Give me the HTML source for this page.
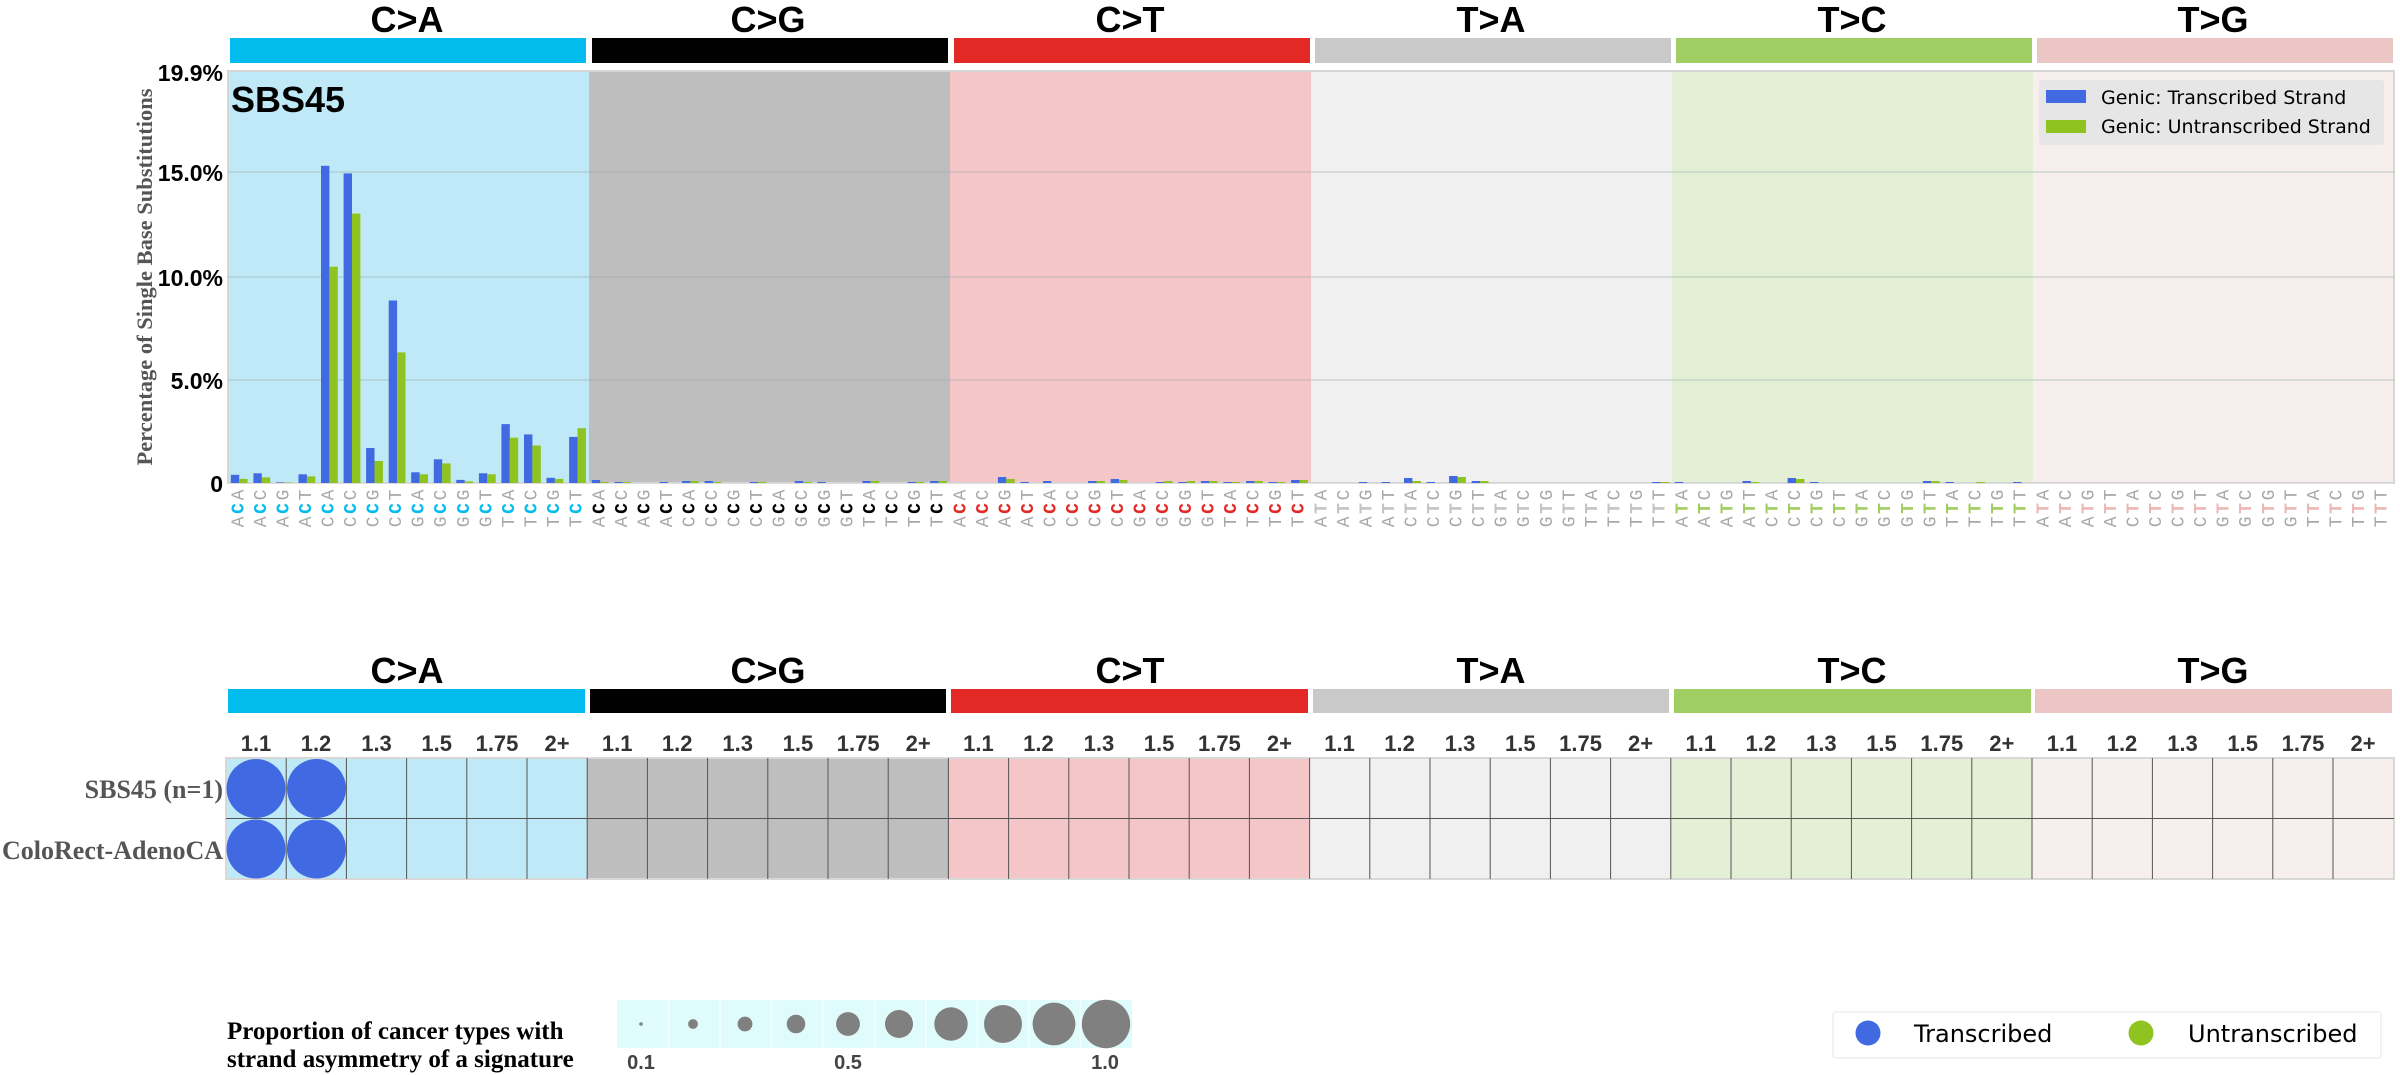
<!DOCTYPE html>
<html><head><meta charset="utf-8"><style>
html,body{margin:0;padding:0;background:#fff;width:2400px;height:1075px;overflow:hidden}
svg{display:block}
.tl text{font-family:"Liberation Mono",monospace;font-size:18px;letter-spacing:2.6px;fill:#a8a8a8}
.cat{font-family:"Liberation Sans",sans-serif;font-weight:bold;font-size:36px;fill:#000}
.yt{font-family:"Liberation Sans",sans-serif;font-weight:bold;font-size:23px;fill:#000}
.num{font-family:"Liberation Sans",sans-serif;font-weight:bold;font-size:22px;fill:#333}
.serif{font-family:"Liberation Serif",serif;font-weight:bold}
.dv{font-family:"DejaVu Sans","Liberation Sans",sans-serif}
</style></head><body>
<svg width="2400" height="1075" viewBox="0 0 2400 1075" xmlns="http://www.w3.org/2000/svg">
<g class="cat" text-anchor="middle">
<text x="407" y="32">C&gt;A</text><text x="768" y="32">C&gt;G</text><text x="1130" y="32">C&gt;T</text>
<text x="1491" y="32">T&gt;A</text><text x="1852" y="32">T&gt;C</text><text x="2213" y="32">T&gt;G</text>
</g>
<rect x="230" y="38" width="356" height="25" fill="#03bcee"/>
<rect x="592" y="38" width="356" height="25" fill="#010101"/>
<rect x="954" y="38" width="356" height="25" fill="#e32926"/>
<rect x="1315" y="38" width="356" height="25" fill="#cac9c9"/>
<rect x="1676" y="38" width="356" height="25" fill="#a1ce63"/>
<rect x="2037" y="38" width="356" height="25" fill="#ebc6c4"/>
<rect x="228" y="71" width="361" height="412" fill="#bfe9f6"/>
<rect x="589" y="71" width="361" height="412" fill="#bebebe"/>
<rect x="950" y="71" width="361" height="412" fill="#f5c6c8"/>
<rect x="1311" y="71" width="361" height="412" fill="#f0f0f0"/>
<rect x="1672" y="71" width="361" height="412" fill="#e3f0d5"/>
<rect x="2033" y="71" width="361" height="412" fill="#f7efee"/>
<rect x="228" y="71" width="2166" height="412" fill="none" stroke="#d6d6d6" stroke-width="2"/>
<g stroke="#9aa" stroke-width="1" opacity="0.6">
<line x1="228" y1="380" x2="2394" y2="380"/><line x1="228" y1="277" x2="2394" y2="277"/><line x1="228" y1="172" x2="2394" y2="172"/>
</g>
<line x1="228" y1="483.5" x2="2394" y2="483.5" stroke="#ddd" stroke-width="1"/>
<g class="yt" text-anchor="end">
<text x="223" y="81">19.9%</text><text x="223" y="181">15.0%</text><text x="223" y="286">10.0%</text><text x="223" y="389">5.0%</text><text x="223" y="492">0</text>
</g>
<text class="serif" transform="translate(152,277) rotate(-90)" text-anchor="middle" font-size="22.5" fill="#555">Percentage of Single Base Substitutions</text>
<text x="231" y="112" font-family="Liberation Sans,sans-serif" font-weight="bold" font-size="36">SBS45</text>
<rect x="2039" y="80" width="345" height="65" fill="#e6e6e6" rx="3"/>
<rect x="2046" y="90" width="40" height="13" fill="#4169e1"/>
<rect x="2046" y="120" width="40" height="13" fill="#8fc31f"/>
<text class="dv" x="2101" y="104" font-size="19">Genic: Transcribed Strand</text>
<text class="dv" x="2101" y="133" font-size="19">Genic: Untranscribed Strand</text>
<g transform="translate(228,0)">
<g fill="#4169e1">
<rect x="2.8" y="474.8" width="8.4" height="8.2"/><rect x="25.4" y="473.3" width="8.4" height="9.7"/><rect x="47.9" y="482.4" width="8.4" height="0.6"/><rect x="70.5" y="474.3" width="8.4" height="8.7"/>
<rect x="93" y="165.8" width="8.4" height="317.2"/><rect x="115.6" y="173.4" width="8.4" height="309.6"/><rect x="138.1" y="448" width="8.4" height="35"/><rect x="160.7" y="300.5" width="8.4" height="182.5"/>
<rect x="183.2" y="472.3" width="8.4" height="10.7"/><rect x="205.8" y="459.3" width="8.4" height="23.7"/><rect x="228.3" y="479.9" width="8.4" height="3.1"/><rect x="250.9" y="473.3" width="8.4" height="9.7"/>
<rect x="273.4" y="424.1" width="8.4" height="58.9"/><rect x="296" y="434.4" width="8.4" height="48.6"/><rect x="318.5" y="477.8" width="8.4" height="5.2"/><rect x="341.1" y="436.9" width="8.4" height="46.1"/>
</g>
<g fill="#8fc31f">
<rect x="11.2" y="478.9" width="8.4" height="4.1"/><rect x="33.8" y="477.4" width="8.4" height="5.6"/><rect x="56.3" y="482.6" width="8.4" height="0.4"/><rect x="78.9" y="476.4" width="8.4" height="6.6"/>
<rect x="101.4" y="266.7" width="8.4" height="216.3"/><rect x="124" y="213.6" width="8.4" height="269.4"/><rect x="146.5" y="461" width="8.4" height="22"/><rect x="169.1" y="352.4" width="8.4" height="130.6"/>
<rect x="191.6" y="474.3" width="8.4" height="8.7"/><rect x="214.2" y="463.4" width="8.4" height="19.6"/><rect x="236.7" y="481.4" width="8.4" height="1.6"/><rect x="259.3" y="474.3" width="8.4" height="8.7"/>
<rect x="281.8" y="437.7" width="8.4" height="45.3"/><rect x="304.4" y="445.5" width="8.4" height="37.5"/><rect x="326.9" y="478.9" width="8.4" height="4.1"/><rect x="349.5" y="428.2" width="8.4" height="54.8"/>
</g>
</g>
<g transform="translate(589,0)">
<g fill="#4169e1"><rect x="2.8" y="480" width="8.4" height="3"/><rect x="25.4" y="482" width="8.4" height="1"/><rect x="70.5" y="482" width="8.4" height="1"/><rect x="93" y="481" width="8.4" height="2"/><rect x="115.6" y="481" width="8.4" height="2"/><rect x="160.7" y="482" width="8.4" height="1"/><rect x="205.8" y="481" width="8.4" height="2"/><rect x="228.3" y="482" width="8.4" height="1"/><rect x="273.4" y="481" width="8.4" height="2"/><rect x="318.5" y="482" width="8.4" height="1"/><rect x="341.1" y="481" width="8.4" height="2"/></g>
<g fill="#8fc31f"><rect x="11.2" y="482" width="8.4" height="1"/><rect x="33.8" y="482" width="8.4" height="1"/><rect x="101.4" y="481" width="8.4" height="2"/><rect x="124" y="482" width="8.4" height="1"/><rect x="169.1" y="482" width="8.4" height="1"/><rect x="214.2" y="482" width="8.4" height="1"/><rect x="281.8" y="481" width="8.4" height="2"/><rect x="326.9" y="482" width="8.4" height="1"/><rect x="349.5" y="481" width="8.4" height="2"/></g>
</g>
<g transform="translate(950,0)">
<g fill="#4169e1"><rect x="47.9" y="477" width="8.4" height="6"/><rect x="70.5" y="482" width="8.4" height="1"/><rect x="93" y="481" width="8.4" height="2"/><rect x="138.1" y="481" width="8.4" height="2"/><rect x="160.7" y="479" width="8.4" height="4"/><rect x="205.8" y="482" width="8.4" height="1"/><rect x="228.3" y="482" width="8.4" height="1"/><rect x="250.9" y="481" width="8.4" height="2"/><rect x="273.4" y="482" width="8.4" height="1"/><rect x="296" y="481" width="8.4" height="2"/><rect x="318.5" y="482" width="8.4" height="1"/><rect x="341.1" y="480" width="8.4" height="3"/></g>
<g fill="#8fc31f"><rect x="56.3" y="479" width="8.4" height="4"/><rect x="146.5" y="481" width="8.4" height="2"/><rect x="169.1" y="480" width="8.4" height="3"/><rect x="214.2" y="481" width="8.4" height="2"/><rect x="236.7" y="481" width="8.4" height="2"/><rect x="259.3" y="481" width="8.4" height="2"/><rect x="281.8" y="482" width="8.4" height="1"/><rect x="304.4" y="481" width="8.4" height="2"/><rect x="326.9" y="482" width="8.4" height="1"/><rect x="349.5" y="480" width="8.4" height="3"/></g>
</g>
<g transform="translate(1311,0)">
<g fill="#4169e1"><rect x="47.9" y="482" width="8.4" height="1"/><rect x="70.5" y="482" width="8.4" height="1"/><rect x="93" y="478" width="8.4" height="5"/><rect x="115.6" y="482" width="8.4" height="1"/><rect x="138.1" y="476" width="8.4" height="7"/><rect x="160.7" y="481" width="8.4" height="2"/><rect x="341.1" y="482" width="8.4" height="1"/></g>
<g fill="#8fc31f"><rect x="101.4" y="481" width="8.4" height="2"/><rect x="146.5" y="477" width="8.4" height="6"/><rect x="169.1" y="481" width="8.4" height="2"/><rect x="349.5" y="482" width="8.4" height="1"/></g>
</g>
<g transform="translate(1672,0)">
<g fill="#4169e1"><rect x="2.8" y="482" width="8.4" height="1"/><rect x="70.5" y="481" width="8.4" height="2"/><rect x="115.6" y="478" width="8.4" height="5"/><rect x="138.1" y="482" width="8.4" height="1"/><rect x="250.9" y="481" width="8.4" height="2"/><rect x="273.4" y="482" width="8.4" height="1"/><rect x="341.1" y="482" width="8.4" height="1"/></g>
<g fill="#8fc31f"><rect x="78.9" y="482" width="8.4" height="1"/><rect x="124" y="479" width="8.4" height="4"/><rect x="259.3" y="481" width="8.4" height="2"/><rect x="304.4" y="482" width="8.4" height="1"/></g>
</g>
<g class="tl">
<g transform="translate(228,0)">
<text transform="translate(11.3,487) rotate(-90)" text-anchor="end" dominant-baseline="central">A<tspan fill="#03bcee" font-weight="bold">C</tspan>A</text>
<text transform="translate(33.9,487) rotate(-90)" text-anchor="end" dominant-baseline="central">A<tspan fill="#03bcee" font-weight="bold">C</tspan>C</text>
<text transform="translate(56.4,487) rotate(-90)" text-anchor="end" dominant-baseline="central">A<tspan fill="#03bcee" font-weight="bold">C</tspan>G</text>
<text transform="translate(79,487) rotate(-90)" text-anchor="end" dominant-baseline="central">A<tspan fill="#03bcee" font-weight="bold">C</tspan>T</text>
<text transform="translate(101.5,487) rotate(-90)" text-anchor="end" dominant-baseline="central">C<tspan fill="#03bcee" font-weight="bold">C</tspan>A</text>
<text transform="translate(124,487) rotate(-90)" text-anchor="end" dominant-baseline="central">C<tspan fill="#03bcee" font-weight="bold">C</tspan>C</text>
<text transform="translate(146.6,487) rotate(-90)" text-anchor="end" dominant-baseline="central">C<tspan fill="#03bcee" font-weight="bold">C</tspan>G</text>
<text transform="translate(169.1,487) rotate(-90)" text-anchor="end" dominant-baseline="central">C<tspan fill="#03bcee" font-weight="bold">C</tspan>T</text>
<text transform="translate(191.7,487) rotate(-90)" text-anchor="end" dominant-baseline="central">G<tspan fill="#03bcee" font-weight="bold">C</tspan>A</text>
<text transform="translate(214.2,487) rotate(-90)" text-anchor="end" dominant-baseline="central">G<tspan fill="#03bcee" font-weight="bold">C</tspan>C</text>
<text transform="translate(236.8,487) rotate(-90)" text-anchor="end" dominant-baseline="central">G<tspan fill="#03bcee" font-weight="bold">C</tspan>G</text>
<text transform="translate(259.3,487) rotate(-90)" text-anchor="end" dominant-baseline="central">G<tspan fill="#03bcee" font-weight="bold">C</tspan>T</text>
<text transform="translate(281.9,487) rotate(-90)" text-anchor="end" dominant-baseline="central">T<tspan fill="#03bcee" font-weight="bold">C</tspan>A</text>
<text transform="translate(304.4,487) rotate(-90)" text-anchor="end" dominant-baseline="central">T<tspan fill="#03bcee" font-weight="bold">C</tspan>C</text>
<text transform="translate(327,487) rotate(-90)" text-anchor="end" dominant-baseline="central">T<tspan fill="#03bcee" font-weight="bold">C</tspan>G</text>
<text transform="translate(349.5,487) rotate(-90)" text-anchor="end" dominant-baseline="central">T<tspan fill="#03bcee" font-weight="bold">C</tspan>T</text>
</g>
<g transform="translate(589,0)">
<text transform="translate(11.3,487) rotate(-90)" text-anchor="end" dominant-baseline="central">A<tspan fill="#000" font-weight="bold">C</tspan>A</text>
<text transform="translate(33.9,487) rotate(-90)" text-anchor="end" dominant-baseline="central">A<tspan fill="#000" font-weight="bold">C</tspan>C</text>
<text transform="translate(56.4,487) rotate(-90)" text-anchor="end" dominant-baseline="central">A<tspan fill="#000" font-weight="bold">C</tspan>G</text>
<text transform="translate(79,487) rotate(-90)" text-anchor="end" dominant-baseline="central">A<tspan fill="#000" font-weight="bold">C</tspan>T</text>
<text transform="translate(101.5,487) rotate(-90)" text-anchor="end" dominant-baseline="central">C<tspan fill="#000" font-weight="bold">C</tspan>A</text>
<text transform="translate(124,487) rotate(-90)" text-anchor="end" dominant-baseline="central">C<tspan fill="#000" font-weight="bold">C</tspan>C</text>
<text transform="translate(146.6,487) rotate(-90)" text-anchor="end" dominant-baseline="central">C<tspan fill="#000" font-weight="bold">C</tspan>G</text>
<text transform="translate(169.1,487) rotate(-90)" text-anchor="end" dominant-baseline="central">C<tspan fill="#000" font-weight="bold">C</tspan>T</text>
<text transform="translate(191.7,487) rotate(-90)" text-anchor="end" dominant-baseline="central">G<tspan fill="#000" font-weight="bold">C</tspan>A</text>
<text transform="translate(214.2,487) rotate(-90)" text-anchor="end" dominant-baseline="central">G<tspan fill="#000" font-weight="bold">C</tspan>C</text>
<text transform="translate(236.8,487) rotate(-90)" text-anchor="end" dominant-baseline="central">G<tspan fill="#000" font-weight="bold">C</tspan>G</text>
<text transform="translate(259.3,487) rotate(-90)" text-anchor="end" dominant-baseline="central">G<tspan fill="#000" font-weight="bold">C</tspan>T</text>
<text transform="translate(281.9,487) rotate(-90)" text-anchor="end" dominant-baseline="central">T<tspan fill="#000" font-weight="bold">C</tspan>A</text>
<text transform="translate(304.4,487) rotate(-90)" text-anchor="end" dominant-baseline="central">T<tspan fill="#000" font-weight="bold">C</tspan>C</text>
<text transform="translate(327,487) rotate(-90)" text-anchor="end" dominant-baseline="central">T<tspan fill="#000" font-weight="bold">C</tspan>G</text>
<text transform="translate(349.5,487) rotate(-90)" text-anchor="end" dominant-baseline="central">T<tspan fill="#000" font-weight="bold">C</tspan>T</text>
</g>
<g transform="translate(950,0)">
<text transform="translate(11.3,487) rotate(-90)" text-anchor="end" dominant-baseline="central">A<tspan fill="#e32926" font-weight="bold">C</tspan>A</text>
<text transform="translate(33.9,487) rotate(-90)" text-anchor="end" dominant-baseline="central">A<tspan fill="#e32926" font-weight="bold">C</tspan>C</text>
<text transform="translate(56.4,487) rotate(-90)" text-anchor="end" dominant-baseline="central">A<tspan fill="#e32926" font-weight="bold">C</tspan>G</text>
<text transform="translate(79,487) rotate(-90)" text-anchor="end" dominant-baseline="central">A<tspan fill="#e32926" font-weight="bold">C</tspan>T</text>
<text transform="translate(101.5,487) rotate(-90)" text-anchor="end" dominant-baseline="central">C<tspan fill="#e32926" font-weight="bold">C</tspan>A</text>
<text transform="translate(124,487) rotate(-90)" text-anchor="end" dominant-baseline="central">C<tspan fill="#e32926" font-weight="bold">C</tspan>C</text>
<text transform="translate(146.6,487) rotate(-90)" text-anchor="end" dominant-baseline="central">C<tspan fill="#e32926" font-weight="bold">C</tspan>G</text>
<text transform="translate(169.1,487) rotate(-90)" text-anchor="end" dominant-baseline="central">C<tspan fill="#e32926" font-weight="bold">C</tspan>T</text>
<text transform="translate(191.7,487) rotate(-90)" text-anchor="end" dominant-baseline="central">G<tspan fill="#e32926" font-weight="bold">C</tspan>A</text>
<text transform="translate(214.2,487) rotate(-90)" text-anchor="end" dominant-baseline="central">G<tspan fill="#e32926" font-weight="bold">C</tspan>C</text>
<text transform="translate(236.8,487) rotate(-90)" text-anchor="end" dominant-baseline="central">G<tspan fill="#e32926" font-weight="bold">C</tspan>G</text>
<text transform="translate(259.3,487) rotate(-90)" text-anchor="end" dominant-baseline="central">G<tspan fill="#e32926" font-weight="bold">C</tspan>T</text>
<text transform="translate(281.9,487) rotate(-90)" text-anchor="end" dominant-baseline="central">T<tspan fill="#e32926" font-weight="bold">C</tspan>A</text>
<text transform="translate(304.4,487) rotate(-90)" text-anchor="end" dominant-baseline="central">T<tspan fill="#e32926" font-weight="bold">C</tspan>C</text>
<text transform="translate(327,487) rotate(-90)" text-anchor="end" dominant-baseline="central">T<tspan fill="#e32926" font-weight="bold">C</tspan>G</text>
<text transform="translate(349.5,487) rotate(-90)" text-anchor="end" dominant-baseline="central">T<tspan fill="#e32926" font-weight="bold">C</tspan>T</text>
</g>
<g transform="translate(1311,0)">
<text transform="translate(11.3,487) rotate(-90)" text-anchor="end" dominant-baseline="central">A<tspan fill="#c4c4c4" font-weight="bold">T</tspan>A</text>
<text transform="translate(33.9,487) rotate(-90)" text-anchor="end" dominant-baseline="central">A<tspan fill="#c4c4c4" font-weight="bold">T</tspan>C</text>
<text transform="translate(56.4,487) rotate(-90)" text-anchor="end" dominant-baseline="central">A<tspan fill="#c4c4c4" font-weight="bold">T</tspan>G</text>
<text transform="translate(79,487) rotate(-90)" text-anchor="end" dominant-baseline="central">A<tspan fill="#c4c4c4" font-weight="bold">T</tspan>T</text>
<text transform="translate(101.5,487) rotate(-90)" text-anchor="end" dominant-baseline="central">C<tspan fill="#c4c4c4" font-weight="bold">T</tspan>A</text>
<text transform="translate(124,487) rotate(-90)" text-anchor="end" dominant-baseline="central">C<tspan fill="#c4c4c4" font-weight="bold">T</tspan>C</text>
<text transform="translate(146.6,487) rotate(-90)" text-anchor="end" dominant-baseline="central">C<tspan fill="#c4c4c4" font-weight="bold">T</tspan>G</text>
<text transform="translate(169.1,487) rotate(-90)" text-anchor="end" dominant-baseline="central">C<tspan fill="#c4c4c4" font-weight="bold">T</tspan>T</text>
<text transform="translate(191.7,487) rotate(-90)" text-anchor="end" dominant-baseline="central">G<tspan fill="#c4c4c4" font-weight="bold">T</tspan>A</text>
<text transform="translate(214.2,487) rotate(-90)" text-anchor="end" dominant-baseline="central">G<tspan fill="#c4c4c4" font-weight="bold">T</tspan>C</text>
<text transform="translate(236.8,487) rotate(-90)" text-anchor="end" dominant-baseline="central">G<tspan fill="#c4c4c4" font-weight="bold">T</tspan>G</text>
<text transform="translate(259.3,487) rotate(-90)" text-anchor="end" dominant-baseline="central">G<tspan fill="#c4c4c4" font-weight="bold">T</tspan>T</text>
<text transform="translate(281.9,487) rotate(-90)" text-anchor="end" dominant-baseline="central">T<tspan fill="#c4c4c4" font-weight="bold">T</tspan>A</text>
<text transform="translate(304.4,487) rotate(-90)" text-anchor="end" dominant-baseline="central">T<tspan fill="#c4c4c4" font-weight="bold">T</tspan>C</text>
<text transform="translate(327,487) rotate(-90)" text-anchor="end" dominant-baseline="central">T<tspan fill="#c4c4c4" font-weight="bold">T</tspan>G</text>
<text transform="translate(349.5,487) rotate(-90)" text-anchor="end" dominant-baseline="central">T<tspan fill="#c4c4c4" font-weight="bold">T</tspan>T</text>
</g>
<g transform="translate(1672,0)">
<text transform="translate(11.3,487) rotate(-90)" text-anchor="end" dominant-baseline="central">A<tspan fill="#a1ce63" font-weight="bold">T</tspan>A</text>
<text transform="translate(33.9,487) rotate(-90)" text-anchor="end" dominant-baseline="central">A<tspan fill="#a1ce63" font-weight="bold">T</tspan>C</text>
<text transform="translate(56.4,487) rotate(-90)" text-anchor="end" dominant-baseline="central">A<tspan fill="#a1ce63" font-weight="bold">T</tspan>G</text>
<text transform="translate(79,487) rotate(-90)" text-anchor="end" dominant-baseline="central">A<tspan fill="#a1ce63" font-weight="bold">T</tspan>T</text>
<text transform="translate(101.5,487) rotate(-90)" text-anchor="end" dominant-baseline="central">C<tspan fill="#a1ce63" font-weight="bold">T</tspan>A</text>
<text transform="translate(124,487) rotate(-90)" text-anchor="end" dominant-baseline="central">C<tspan fill="#a1ce63" font-weight="bold">T</tspan>C</text>
<text transform="translate(146.6,487) rotate(-90)" text-anchor="end" dominant-baseline="central">C<tspan fill="#a1ce63" font-weight="bold">T</tspan>G</text>
<text transform="translate(169.1,487) rotate(-90)" text-anchor="end" dominant-baseline="central">C<tspan fill="#a1ce63" font-weight="bold">T</tspan>T</text>
<text transform="translate(191.7,487) rotate(-90)" text-anchor="end" dominant-baseline="central">G<tspan fill="#a1ce63" font-weight="bold">T</tspan>A</text>
<text transform="translate(214.2,487) rotate(-90)" text-anchor="end" dominant-baseline="central">G<tspan fill="#a1ce63" font-weight="bold">T</tspan>C</text>
<text transform="translate(236.8,487) rotate(-90)" text-anchor="end" dominant-baseline="central">G<tspan fill="#a1ce63" font-weight="bold">T</tspan>G</text>
<text transform="translate(259.3,487) rotate(-90)" text-anchor="end" dominant-baseline="central">G<tspan fill="#a1ce63" font-weight="bold">T</tspan>T</text>
<text transform="translate(281.9,487) rotate(-90)" text-anchor="end" dominant-baseline="central">T<tspan fill="#a1ce63" font-weight="bold">T</tspan>A</text>
<text transform="translate(304.4,487) rotate(-90)" text-anchor="end" dominant-baseline="central">T<tspan fill="#a1ce63" font-weight="bold">T</tspan>C</text>
<text transform="translate(327,487) rotate(-90)" text-anchor="end" dominant-baseline="central">T<tspan fill="#a1ce63" font-weight="bold">T</tspan>G</text>
<text transform="translate(349.5,487) rotate(-90)" text-anchor="end" dominant-baseline="central">T<tspan fill="#a1ce63" font-weight="bold">T</tspan>T</text>
</g>
<g transform="translate(2033,0)">
<text transform="translate(11.3,487) rotate(-90)" text-anchor="end" dominant-baseline="central">A<tspan fill="#ebb8b6" font-weight="bold">T</tspan>A</text>
<text transform="translate(33.9,487) rotate(-90)" text-anchor="end" dominant-baseline="central">A<tspan fill="#ebb8b6" font-weight="bold">T</tspan>C</text>
<text transform="translate(56.4,487) rotate(-90)" text-anchor="end" dominant-baseline="central">A<tspan fill="#ebb8b6" font-weight="bold">T</tspan>G</text>
<text transform="translate(79,487) rotate(-90)" text-anchor="end" dominant-baseline="central">A<tspan fill="#ebb8b6" font-weight="bold">T</tspan>T</text>
<text transform="translate(101.5,487) rotate(-90)" text-anchor="end" dominant-baseline="central">C<tspan fill="#ebb8b6" font-weight="bold">T</tspan>A</text>
<text transform="translate(124,487) rotate(-90)" text-anchor="end" dominant-baseline="central">C<tspan fill="#ebb8b6" font-weight="bold">T</tspan>C</text>
<text transform="translate(146.6,487) rotate(-90)" text-anchor="end" dominant-baseline="central">C<tspan fill="#ebb8b6" font-weight="bold">T</tspan>G</text>
<text transform="translate(169.1,487) rotate(-90)" text-anchor="end" dominant-baseline="central">C<tspan fill="#ebb8b6" font-weight="bold">T</tspan>T</text>
<text transform="translate(191.7,487) rotate(-90)" text-anchor="end" dominant-baseline="central">G<tspan fill="#ebb8b6" font-weight="bold">T</tspan>A</text>
<text transform="translate(214.2,487) rotate(-90)" text-anchor="end" dominant-baseline="central">G<tspan fill="#ebb8b6" font-weight="bold">T</tspan>C</text>
<text transform="translate(236.8,487) rotate(-90)" text-anchor="end" dominant-baseline="central">G<tspan fill="#ebb8b6" font-weight="bold">T</tspan>G</text>
<text transform="translate(259.3,487) rotate(-90)" text-anchor="end" dominant-baseline="central">G<tspan fill="#ebb8b6" font-weight="bold">T</tspan>T</text>
<text transform="translate(281.9,487) rotate(-90)" text-anchor="end" dominant-baseline="central">T<tspan fill="#ebb8b6" font-weight="bold">T</tspan>A</text>
<text transform="translate(304.4,487) rotate(-90)" text-anchor="end" dominant-baseline="central">T<tspan fill="#ebb8b6" font-weight="bold">T</tspan>C</text>
<text transform="translate(327,487) rotate(-90)" text-anchor="end" dominant-baseline="central">T<tspan fill="#ebb8b6" font-weight="bold">T</tspan>G</text>
<text transform="translate(349.5,487) rotate(-90)" text-anchor="end" dominant-baseline="central">T<tspan fill="#ebb8b6" font-weight="bold">T</tspan>T</text>
</g>
</g>

<g class="cat" text-anchor="middle">
<text x="407" y="683">C&gt;A</text><text x="768" y="683">C&gt;G</text><text x="1130" y="683">C&gt;T</text>
<text x="1491" y="683">T&gt;A</text><text x="1852" y="683">T&gt;C</text><text x="2213" y="683">T&gt;G</text>
</g>
<rect x="228" y="689" width="357" height="24" fill="#03bcee"/>
<rect x="590" y="689" width="356" height="24" fill="#010101"/>
<rect x="951" y="689" width="357" height="24" fill="#e32926"/>
<rect x="1313" y="689" width="356" height="24" fill="#cac9c9"/>
<rect x="1674" y="689" width="357" height="24" fill="#a1ce63"/>
<rect x="2035" y="689" width="357" height="24" fill="#ebc6c4"/>
<g class="num" text-anchor="middle">
<g transform="translate(226,751)"><text x="30">1.1</text><text x="90">1.2</text><text x="150.5">1.3</text><text x="210.7">1.5</text><text x="271">1.75</text><text x="331">2+</text></g>
<g transform="translate(587.2,751)"><text x="30">1.1</text><text x="90">1.2</text><text x="150.5">1.3</text><text x="210.7">1.5</text><text x="271">1.75</text><text x="331">2+</text></g>
<g transform="translate(948.4,751)"><text x="30">1.1</text><text x="90">1.2</text><text x="150.5">1.3</text><text x="210.7">1.5</text><text x="271">1.75</text><text x="331">2+</text></g>
<g transform="translate(1309.6,751)"><text x="30">1.1</text><text x="90">1.2</text><text x="150.5">1.3</text><text x="210.7">1.5</text><text x="271">1.75</text><text x="331">2+</text></g>
<g transform="translate(1670.8,751)"><text x="30">1.1</text><text x="90">1.2</text><text x="150.5">1.3</text><text x="210.7">1.5</text><text x="271">1.75</text><text x="331">2+</text></g>
<g transform="translate(2032,751)"><text x="30">1.1</text><text x="90">1.2</text><text x="150.5">1.3</text><text x="210.7">1.5</text><text x="271">1.75</text><text x="331">2+</text></g>
</g>
<rect x="226" y="758" width="361.2" height="121" fill="#bfe9f6"/>
<rect x="587.2" y="758" width="361.2" height="121" fill="#bebebe"/>
<rect x="948.4" y="758" width="361.2" height="121" fill="#f5c6c8"/>
<rect x="1309.6" y="758" width="361.2" height="121" fill="#f0f0f0"/>
<rect x="1670.8" y="758" width="361.2" height="121" fill="#e3f0d5"/>
<rect x="2032" y="758" width="362" height="121" fill="#f7efee"/>
<rect x="226" y="758" width="2168" height="121" fill="none" stroke="#d8d8d8" stroke-width="2"/>
<g stroke="#555" stroke-width="1">
<line x1="226" y1="818.5" x2="2394" y2="818.5"/>
<path d="M286.2 758V879M346.4 758V879M406.6 758V879M466.8 758V879M527 758V879M587.2 758V879M647.4 758V879M707.6 758V879M767.8 758V879M828 758V879M888.2 758V879M948.4 758V879M1008.6 758V879M1068.8 758V879M1129 758V879M1189.2 758V879M1249.4 758V879M1309.6 758V879M1369.8 758V879M1430 758V879M1490.2 758V879M1550.4 758V879M1610.6 758V879M1670.8 758V879M1731 758V879M1791.2 758V879M1851.4 758V879M1911.6 758V879M1971.8 758V879M2032 758V879M2092.2 758V879M2152.4 758V879M2212.6 758V879M2272.8 758V879M2333 758V879" fill="none"/>
</g>
<g fill="#4169e1">
<ellipse cx="256" cy="788.5" rx="29.5" ry="29.5"/><ellipse cx="316.5" cy="788.5" rx="29.5" ry="29.5"/>
<ellipse cx="256" cy="849" rx="29.5" ry="29.5"/><ellipse cx="316.5" cy="849" rx="29.5" ry="29.5"/>
</g>
<g class="serif" font-size="26" fill="#555" text-anchor="end">
<text x="223" y="798">SBS45 (n=1)</text>
<text x="223" y="859">ColoRect-AdenoCA</text>
</g>
<g class="serif" font-size="25" fill="#000">
<text x="227" y="1039">Proportion of cancer types with</text>
<text x="227" y="1067">strand asymmetry of a signature</text>
</g>
<rect x="617" y="1000" width="515" height="48" fill="#dffbfb"/>
<g stroke="#f2ffff" stroke-width="1.5"><path d="M668.5 1000V1048M720 1000V1048M771.5 1000V1048M823 1000V1048M874.5 1000V1048M926 1000V1048M977.5 1000V1048M1029 1000V1048M1080.5 1000V1048"/></g>
<g fill="#808080">
<circle cx="641" cy="1024" r="1.8"/><circle cx="693" cy="1024" r="4.9"/><circle cx="745" cy="1024" r="7.4"/><circle cx="796" cy="1024" r="9.3"/><circle cx="848" cy="1024" r="11.9"/>
<circle cx="899" cy="1024" r="14"/><circle cx="951" cy="1024" r="16.7"/><circle cx="1003" cy="1024" r="19"/><circle cx="1054" cy="1024" r="21.4"/><circle cx="1106" cy="1024" r="24.2"/>
</g>
<g font-family="Liberation Sans,sans-serif" font-weight="bold" font-size="20" fill="#444" text-anchor="middle">
<text x="641" y="1069">0.1</text><text x="848" y="1069">0.5</text><text x="1105" y="1069">1.0</text>
</g>
<rect x="1833" y="1012" width="548" height="46" fill="#fff" stroke="#eee" stroke-width="1.5" rx="3"/>
<circle cx="1868" cy="1033" r="12.5" fill="#4169e1"/>
<circle cx="2141" cy="1033" r="12.5" fill="#8fc31f"/>
<g class="dv" font-size="24" fill="#000">
<text x="1914" y="1042">Transcribed</text>
<text x="2188" y="1042">Untranscribed</text>
</g>
</svg>
</body></html>
